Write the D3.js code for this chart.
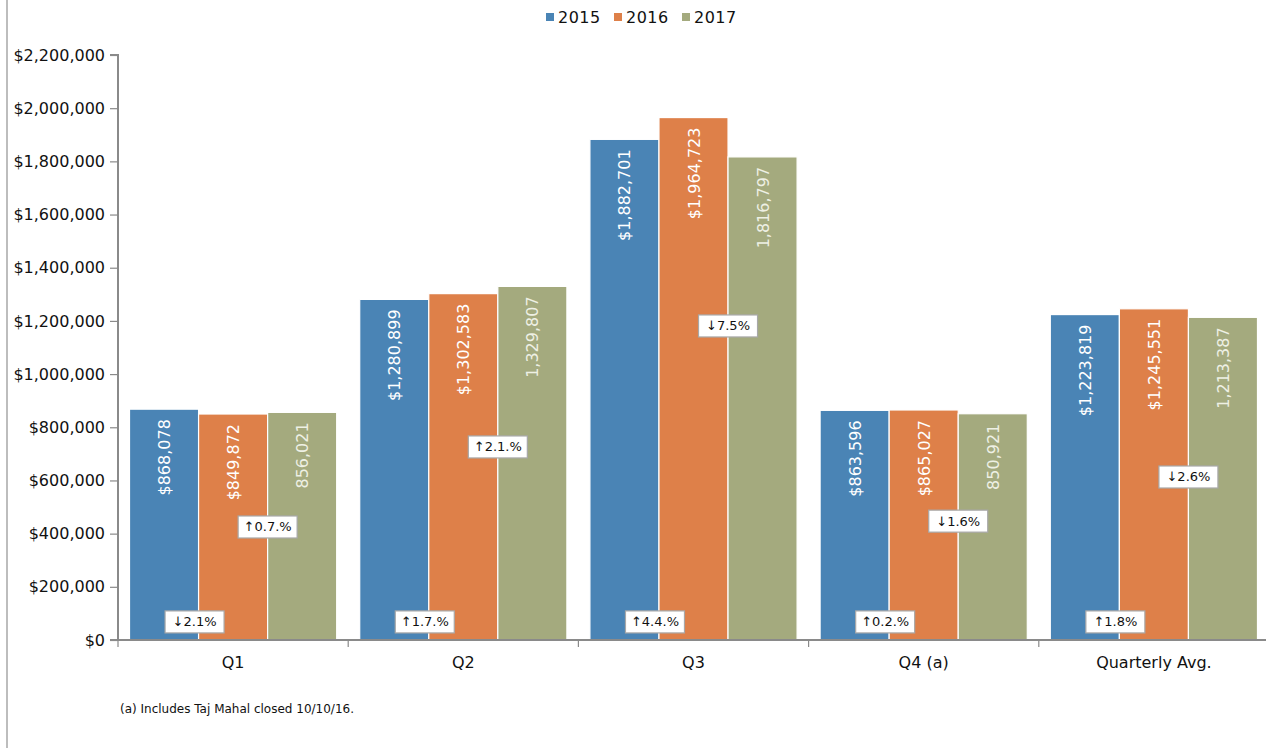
<!DOCTYPE html>
<html><head><meta charset="utf-8">
<script src="https://cdn.jsdelivr.net/npm/d3@7"></script>
<style>
html,body{margin:0;padding:0;background:#fff;}
svg{display:block;font-family:"DejaVu Sans",Verdana,sans-serif;}
</style></head>
<body><svg id="chart" width="1266" height="748"></svg>
<script>
const categories = ["Q1","Q2","Q3","Q4 (a)","Quarterly Avg."];
const years = ["2015","2016","2017"];
const values2015 = [868078,1280899,1882701,863596,1223819];
const values2016 = [849872,1302583,1964723,865027,1245551];
const values2017 = [856021,1329807,1816797,850921,1213387];
const labels2015 = ["$868,078","$1,280,899","$1,882,701","$863,596","$1,223,819"];
const labels2016 = ["$849,872","$1,302,583","$1,964,723","$865,027","$1,245,551"];
const labels2017 = ["856,021","1,329,807","1,816,797","850,921","1,213,387"];
const change1Labels = ["↓2.1%","↑1.7.%","↑4.4.%","↑0.2.%","↑1.8%"];
const change2Labels = ["↑0.7.%","↑2.1.%","↓7.5%","↓1.6%","↓2.6%"];
const change1Level = [68000,68000,68000,68000,68000];
const change2Level = [425000,726000,1181000,447000,613000];
const yTicks = [0,200000,400000,600000,800000,1000000,1200000,1400000,1600000,1800000,2000000,2200000];
const colors = ["#4a84b5","#de8049","#a4aa7e"];
const footnote = "(a) Includes Taj Mahal closed 10/10/16.";

const series = [values2015, values2016, values2017];
const seriesLabels = [labels2015, labels2016, labels2017];
const labelColors = ["#ffffff","#ffffff","#eef0e4"];

const svg = d3.select("#chart");
const plotLeft = 118, plotRight = 1269, plotTop = 55, plotBottom = 640;

const y = d3.scaleLinear().domain([0,2200000]).range([plotBottom, plotTop]);
const x0 = d3.scaleBand().domain(categories).range([plotLeft, plotRight]).paddingInner(0.1).paddingOuter(0.05);
const x1 = d3.scaleBand().domain(years).range([0, x0.bandwidth()]);

// left page border
svg.append("line").attr("x1",7).attr("x2",7).attr("y1",0).attr("y2",748)
  .attr("stroke","#bdbdbd").attr("stroke-width",2);

// bars
categories.forEach((c, i) => {
  const g = svg.append("g").attr("transform", `translate(${x0(c)},0)`);
  years.forEach((yr, j) => {
    const v = series[j][i];
    g.append("rect")
      .attr("x", x1(yr)).attr("y", y(v))
      .attr("width", x1.bandwidth()).attr("height", y(0) - y(v))
      .attr("fill", colors[j]).attr("stroke", "#fff").attr("stroke-width", 1.2);
    const cx = x1(yr) + x1.bandwidth()/2;
    g.append("text")
      .attr("transform", `translate(${cx + 6},${y(v) + 10}) rotate(-90)`)
      .attr("text-anchor","end")
      .attr("font-size", 16)
      .attr("fill", labelColors[j])
      .text(seriesLabels[j][i]);
  });
});

// y axis
const yAxis = d3.axisLeft(y).tickValues(yTicks).tickSize(8).tickPadding(5)
  .tickFormat(d => "$" + d3.format(",")(d));
const ya = svg.append("g").attr("transform", `translate(${plotLeft},0)`).call(yAxis);
ya.select(".domain").attr("stroke","#8a8a8a").attr("stroke-width",2).attr("d", `M-8,${plotTop}H0V${plotBottom}`);
ya.selectAll(".tick line").attr("stroke","#8a8a8a").attr("stroke-width",1.2);
ya.selectAll(".tick text").attr("font-size",16).attr("fill","#111").attr("font-family","DejaVu Sans, sans-serif");

// x axis
const xa = svg.append("g").attr("transform", `translate(0,${plotBottom})`);
xa.append("line").attr("x1", plotLeft - 8).attr("x2", 1266).attr("y1",0).attr("y2",0)
  .attr("stroke","#8a8a8a").attr("stroke-width",2);
const step = x0.step();
const boundaries = categories.map(c => x0(c) - step*0.05).concat([x0(categories[4]) + x0.bandwidth() + step*0.05]);
boundaries.forEach(b => {
  xa.append("line").attr("x1",b).attr("x2",b).attr("y1",0).attr("y2",7)
    .attr("stroke","#8a8a8a").attr("stroke-width",1.2);
});
categories.forEach(c => {
  xa.append("text").attr("x", x0(c) + x0.bandwidth()/2).attr("y", 28)
    .attr("text-anchor","middle").attr("font-size",16).attr("fill","#111").text(c);
});

// change annotations
function note(cx, cy, txt) {
  const w = 59, h = 22;
  svg.append("rect").attr("x", cx - w/2).attr("y", cy - h/2).attr("width", w).attr("height", h)
    .attr("fill","#fff").attr("stroke","#a8a8a8").attr("stroke-width",1.2);
  svg.append("text").attr("x", cx).attr("y", cy + 4.5).attr("text-anchor","middle")
    .attr("font-size",13).attr("fill","#111").text(txt);
}
categories.forEach((c, i) => {
  const b1 = x0(c) + x1("2016") - 4;
  const b2 = x0(c) + x1("2017");
  note(b1, y(change1Level[i]), change1Labels[i]);
  note(b2, y(change2Level[i]), change2Labels[i]);
});

// legend
const legend = svg.append("g");
const legX = [546, 614, 682];
years.forEach((yr, j) => {
  legend.append("rect").attr("x", legX[j]).attr("y", 13).attr("width",8).attr("height",8).attr("fill", colors[j]);
  legend.append("text").attr("x", legX[j] + 12).attr("y", 23).attr("font-size",16)
    .attr("fill","#111").attr("letter-spacing", 0.5).text(yr);
});

// footnote
svg.append("text").attr("x",120).attr("y",713).attr("font-size",12).attr("fill","#111").text(footnote);
</script></body></html>
